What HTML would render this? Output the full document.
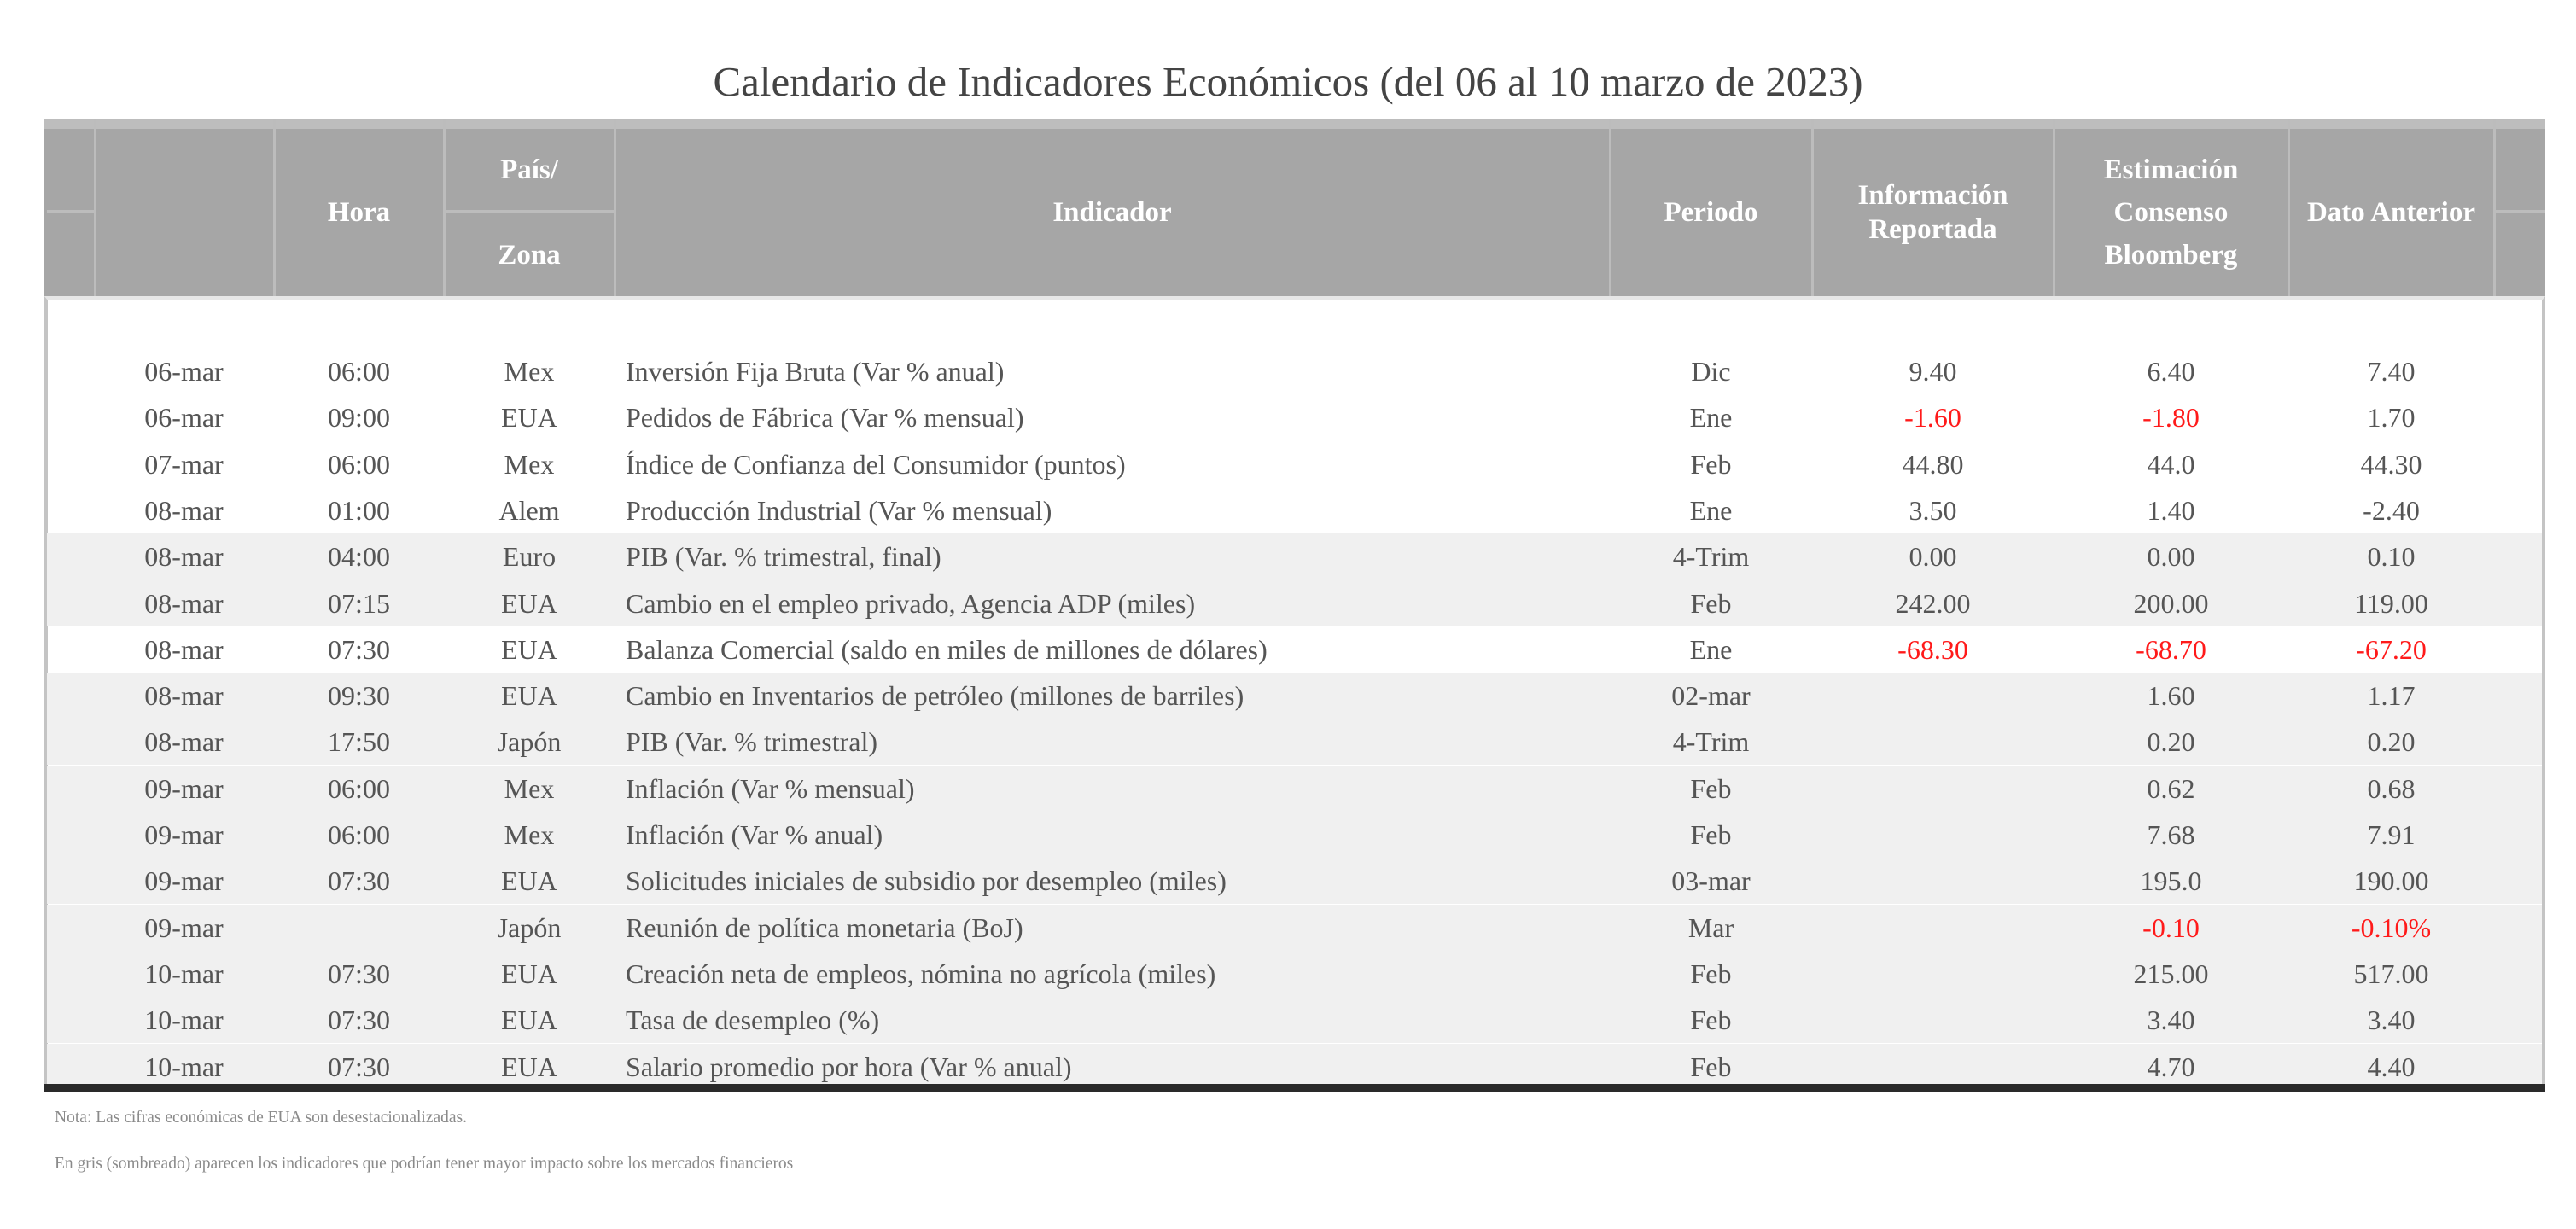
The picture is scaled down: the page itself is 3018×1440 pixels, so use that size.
<!DOCTYPE html>
<html><head><meta charset="utf-8"><style>
body{margin:0;width:3018px;height:1440px;background:#fff;position:relative;overflow:hidden;font-family:"Liberation Serif",serif;}
.a{position:absolute;}
.t{position:absolute;left:0;width:3018px;top:68px;text-align:center;font-size:49px;color:#444;line-height:56px;}
.hd{position:absolute;top:139px;left:52px;width:2930px;height:208px;background:#a6a6a6;border-top:12px solid #bdbdbd;box-sizing:border-box;}
.vl{position:absolute;top:139px;height:208px;width:3px;background:#bcbcbc;}
.hl{position:absolute;height:4px;background:#bcbcbc;}
.h{position:absolute;color:#fff;font-weight:bold;font-size:33px;text-align:center;line-height:40px;display:flex;align-items:center;justify-content:center;}
.row{position:absolute;left:55px;width:2923px;height:54px;}
.g{background:#f0f0f0;}
.c{position:absolute;top:0;height:54px;line-height:54px;font-size:32px;color:#555;text-align:center;white-space:nowrap;}
.r{color:#ff1a1a;}
.n{position:absolute;left:64px;font-size:19.5px;color:#8a8a8a;}
</style></head><body>
<div class="t">Calendario de Indicadores Económicos (del 06 al 10 marzo de 2023)</div>
<div class="hd"></div>
<div class="a" style="left:52px;top:347px;width:2930px;height:926px;border-left:4px solid #c4c4c4;border-right:4px solid #c4c4c4;box-sizing:border-box;border-top:5px solid #e6e6e6"></div>
<div class="vl" style="left:110px"></div><div class="vl" style="left:320px"></div><div class="vl" style="left:519px"></div><div class="vl" style="left:719px"></div><div class="vl" style="left:1885px"></div><div class="vl" style="left:2122px"></div><div class="vl" style="left:2405px"></div><div class="vl" style="left:2680px"></div><div class="vl" style="left:2921px"></div>
<div class="hl" style="left:55px;width:55px;top:246px"></div>
<div class="hl" style="left:520px;width:200px;top:246px"></div>
<div class="hl" style="left:2922px;width:60px;top:246px"></div>
<div class="h" style="left:321px;width:199px;top:151px;height:196px">Hora</div>
<div class="h" style="left:520px;width:200px;top:151px;height:96px">País/</div>
<div class="h" style="left:520px;width:200px;top:250px;height:97px">Zona</div>
<div class="h" style="left:720px;width:1166px;top:151px;height:196px">Indicador</div>
<div class="h" style="left:1886px;width:237px;top:151px;height:196px">Periodo</div>
<div class="h" style="left:2123px;width:283px;top:151px;height:196px">Información<br>Reportada</div>
<div class="h" style="left:2406px;width:275px;top:151px;height:196px;line-height:50px">Estimación<br>Consenso<br>Bloomberg</div>
<div class="h" style="left:2681px;width:241px;top:151px;height:196px">Dato Anterior</div>

<div id="rows"></div>
<div class="a" style="left:52px;top:1270px;width:2930px;height:9px;background:#2a2a2a"></div>
<div class="n" style="top:1299px">Nota: Las cifras económicas de EUA son desestacionalizadas.</div>
<div class="n" style="top:1353px">En gris (sombreado) aparecen los indicadores que podrían tener mayor impacto sobre los mercados financieros</div>
<script>
var d=[
[0,"06-mar","06:00","Mex","Inversión Fija Bruta (Var % anual)","Dic","9.40","6.40","7.40",""],
[0,"06-mar","09:00","EUA","Pedidos de Fábrica (Var % mensual)","Ene","-1.60","-1.80","1.70","rr-"],
[0,"07-mar","06:00","Mex","Índice de Confianza del Consumidor (puntos)","Feb","44.80","44.0","44.30",""],
[0,"08-mar","01:00","Alem","Producción Industrial (Var % mensual)","Ene","3.50","1.40","-2.40",""],
[1,"08-mar","04:00","Euro","PIB (Var. % trimestral, final)","4-Trim","0.00","0.00","0.10",""],
[1,"08-mar","07:15","EUA","Cambio en el empleo privado, Agencia ADP (miles)","Feb","242.00","200.00","119.00",""],
[0,"08-mar","07:30","EUA","Balanza Comercial (saldo en miles de millones de dólares)","Ene","-68.30","-68.70","-67.20","rrr"],
[1,"08-mar","09:30","EUA","Cambio en Inventarios de petróleo (millones de barriles)","02-mar","","1.60","1.17",""],
[1,"08-mar","17:50","Japón","PIB (Var. % trimestral)","4-Trim","","0.20","0.20",""],
[1,"09-mar","06:00","Mex","Inflación (Var % mensual)","Feb","","0.62","0.68",""],
[1,"09-mar","06:00","Mex","Inflación (Var % anual)","Feb","","7.68","7.91",""],
[1,"09-mar","07:30","EUA","Solicitudes iniciales de subsidio por desempleo (miles)","03-mar","","195.0","190.00",""],
[1,"09-mar","","Japón","Reunión de política monetaria (BoJ)","Mar","","-0.10","-0.10%","-rr"],
[1,"10-mar","07:30","EUA","Creación neta de empleos, nómina no agrícola (miles)","Feb","","215.00","517.00",""],
[1,"10-mar","07:30","EUA","Tasa de desempleo (%)","Feb","","3.40","3.40",""],
[1,"10-mar","07:30","EUA","Salario promedio por hora (Var % anual)","Feb","","4.70","4.40",""]];
var cols=[[55,211,"c"],[266,199,"c"],[465,200,"c"],[678,1166,"l"],[1831,237,"c"],[2068,283,"c"],[2351,275,"c"],[2626,241,"c"]];
var h="";
d.forEach(function(r,i){
 var top=408+i*54.3;
 h+='<div class="row'+(r[0]?' g':'')+'" style="top:'+top+'px">';
 for(var k=0;k<8;k++){
  var c=cols[k],red=(k>=5&&r[9][k-5]=="r")?" r":"";
  h+='<div class="c'+red+'" style="left:'+c[0]+'px;width:'+c[1]+'px;'+(c[2]=="l"?'text-align:left;':'')+'">'+r[k+1]+'</div>';
 }
 h+='</div>';
});
document.getElementById("rows").innerHTML=h;
</script>
</body></html>
